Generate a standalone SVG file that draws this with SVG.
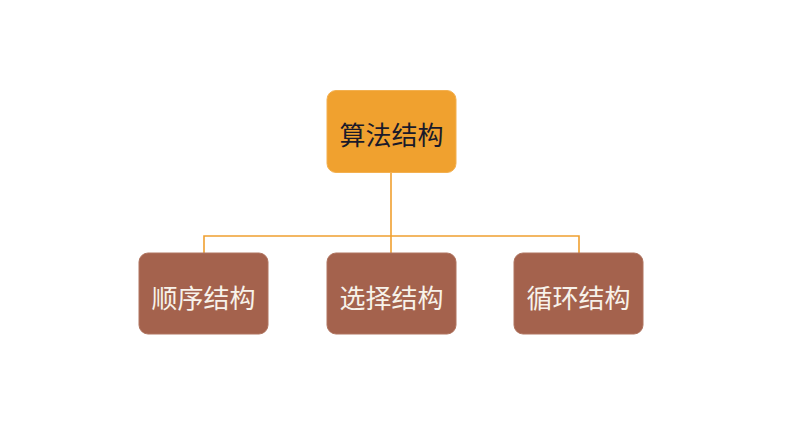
<svg xmlns="http://www.w3.org/2000/svg" width="794" height="447" viewBox="0 0 794 447">
<style>
.lbl{font-family:"Noto Sans CJK SC","Liberation Sans",sans-serif;font-size:26px;text-anchor:middle;dominant-baseline:central}
.top{fill:#F0A12F;stroke:#F3B050;stroke-width:1}
.sub{fill:#A4624D;stroke:#B07560;stroke-width:1}
.conn{fill:none;stroke:#F0A030;stroke-width:1.6}
</style>
<rect width="794" height="447" fill="#ffffff"/>
<g id="connectors">
<path class="conn" d="M391 172 V253 M204 253 V236 H579 V253"/>
</g>
<g id="node-root">
<rect class="top" x="327" y="90.5" width="129" height="82" rx="9"/>
<text class="lbl" x="391.5" y="133" fill="#1a1a2a">算法结构</text>
</g>
<g id="node-seq">
<rect class="sub" x="139" y="253" width="129" height="81" rx="9"/>
<text class="lbl" x="203.5" y="296" fill="#f7f2ea">顺序结构</text>
</g>
<g id="node-sel">
<rect class="sub" x="327" y="253" width="129" height="81" rx="9"/>
<text class="lbl" x="391.5" y="296" fill="#f7f2ea">选择结构</text>
</g>
<g id="node-loop">
<rect class="sub" x="514" y="253" width="129" height="81" rx="9"/>
<text class="lbl" x="578.5" y="296" fill="#f7f2ea">循环结构</text>
</g>
</svg>
